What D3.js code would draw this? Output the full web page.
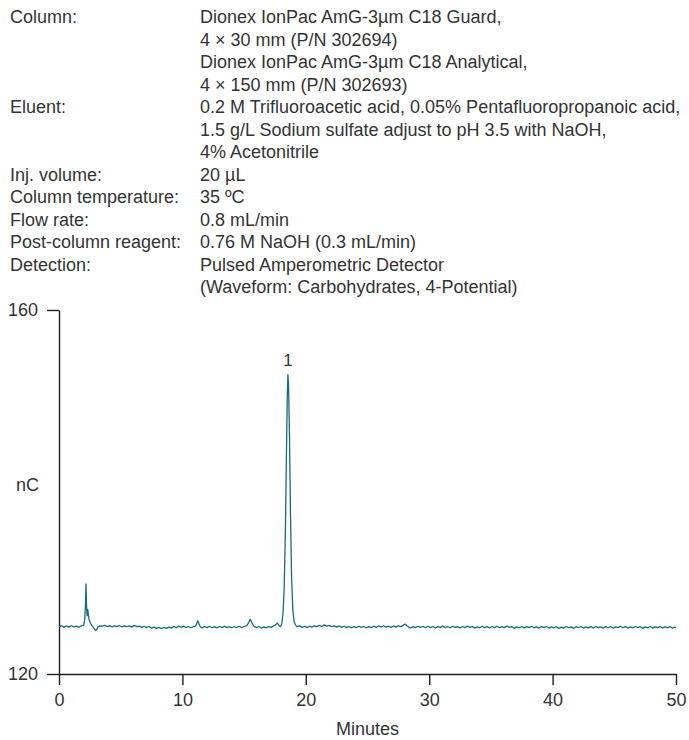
<!DOCTYPE html>
<html>
<meta charset="utf-8">
<script src="https://d3js.org/d3.v7.min.js"></script>
<style>
  body { margin: 0; background: #fff; }
  svg text { font-family: "Liberation Sans", Arial, sans-serif; }
</style>
<body>
<div id="chart"></div>
<script>

// method conditions printed above the chromatogram
var conditionLabels = ["Column:", "", "", "", "Eluent:", "", "", "Inj. volume:",
  "Column temperature:", "Flow rate:", "Post-column reagent:", "Detection:", ""];
var conditionValues = [
  "Dionex IonPac AmG-3µm C18 Guard,",
  "4 × 30 mm (P/N 302694)",
  "Dionex IonPac AmG-3µm C18 Analytical,",
  "4 × 150 mm (P/N 302693)",
  "0.2 M Trifluoroacetic acid, 0.05% Pentafluoropropanoic acid,",
  "1.5 g/L Sodium sulfate adjust to pH 3.5 with NaOH,",
  "4% Acetonitrile",
  "20 µL",
  "35 ºC",
  "0.8 mL/min",
  "0.76 M NaOH (0.3 mL/min)",
  "Pulsed Amperometric Detector",
  "(Waveform: Carbohydrates, 4-Potential)"
];

var xTicks = [0, 10, 20, 30, 40, 50];
var yTicks = [120, 160];

// labelled peaks: [minutes, nC, label]
var peakLabels = [[18.55, 152.9, "1"]];

// detector trace: [minutes, nC]
var trace = [
  [0.0,125.2],[0.2,125.3],[0.4,125.12],[0.6,125.28],[0.8,125.15],[1.0,125.3],[1.2,125.18],
  [1.4,125.27],[1.6,125.13],[1.8,125.3],[2.0,125.35],
  [2.08,125.9],[2.14,127.5],[2.19,129.9],[2.24,127.2],[2.28,126.4],[2.33,127.1],[2.38,126.5],
  [2.45,125.9],[2.55,125.6],[2.65,125.35],[2.75,125.2],[2.85,125.0],[2.95,124.8],[3.05,124.85],
  [3.15,125.15],[3.3,125.3],[3.5,125.25],[3.7,125.35],[3.9,125.2],[4.1,125.32],[4.3,125.18],
  [4.5,125.3],[4.7,125.2],[4.9,125.33],[5.1,125.17],[5.3,125.3],[5.5,125.2],[5.7,125.28],
  [5.9,125.15],[6.1,125.35],[6.3,125.2],[6.5,125.27],[6.7,125.12],[6.9,125.25],[7.1,125.1],
  [7.3,125.22],[7.5,125.05],[7.7,125.15],[7.9,125.02],[8.1,125.12],[8.3,125.0],[8.5,125.12],
  [8.7,125.02],[8.9,125.15],[9.1,125.05],[9.3,125.2],[9.5,125.1],[9.7,125.28],[9.9,125.12],
  [10.1,125.25],[10.3,125.1],[10.5,125.22],[10.7,125.08],[10.9,125.2],[11.05,125.25],
  [11.15,125.5],[11.25,125.85],[11.35,125.5],[11.45,125.2],[11.6,125.05],[11.8,125.22],
  [12.0,125.1],[12.2,125.25],[12.4,125.08],[12.6,125.2],[12.8,125.07],[13.0,125.22],
  [13.2,125.1],[13.4,125.25],[13.6,125.1],[13.8,125.2],[14.0,125.08],[14.2,125.22],
  [14.4,125.1],[14.6,125.25],[14.8,125.12],[15.0,125.22],[15.2,125.3],[15.35,125.6],
  [15.5,126.0],[15.65,125.6],[15.8,125.25],[16.0,125.1],[16.2,125.22],[16.4,125.05],
  [16.6,125.18],[16.8,125.08],[17.0,125.2],[17.2,125.12],[17.4,125.3],[17.55,125.4],
  [17.7,125.6],[17.85,125.3],[17.95,125.2],
  [18.05,125.5],[18.15,126.6],[18.25,129.5],[18.35,136.0],[18.43,144.0],[18.5,150.5],
  [18.55,152.9],[18.6,151.8],[18.68,146.0],[18.76,137.5],[18.85,130.5],[18.95,127.0],
  [19.05,125.8],[19.15,125.4],[19.3,125.2],[19.5,125.3],[19.7,125.12],[19.9,125.25],
  [20.1,125.1],[20.3,125.25],[20.5,125.15],[20.7,125.3],[20.9,125.2],[21.1,125.35],
  [21.3,125.22],[21.5,125.4],[21.7,125.25],[21.9,125.35],[22.1,125.2],[22.3,125.3],
  [22.5,125.15],[22.7,125.28],[22.9,125.12],[23.1,125.25],[23.3,125.1],[23.5,125.22],
  [23.7,125.08],[23.9,125.2],[24.1,125.1],[24.3,125.25],[24.5,125.12],[24.7,125.22],
  [24.9,125.08],[25.1,125.2],[25.3,125.1],[25.5,125.25],[25.7,125.12],[25.9,125.28],
  [26.1,125.15],[26.3,125.3],[26.5,125.15],[26.7,125.25],[26.9,125.12],[27.1,125.28],
  [27.3,125.15],[27.5,125.3],[27.7,125.2],[27.9,125.35],[28.05,125.5],[28.2,125.3],
  [28.35,125.15],[28.5,125.05],[28.7,125.2],[28.9,125.1],[29.1,125.25],[29.3,125.12],
  [29.5,125.22],[29.7,125.08],[29.9,125.25],[30.1,125.1],[30.3,125.22],[30.5,125.05],
  [30.7,125.2],[30.9,125.12],[31.1,125.28],[31.3,125.1],[31.5,125.22],[31.7,125.08],
  [31.9,125.25],[32.1,125.12],[32.3,125.2],[32.5,125.05],[32.7,125.22],[32.9,125.1],
  [33.1,125.27],[33.3,125.12],[33.5,125.2],[33.7,125.05],[33.9,125.18],[34.1,125.08],
  [34.3,125.25],[34.5,125.1],[34.7,125.2],[34.9,125.05],[35.1,125.22],[35.3,125.1],
  [35.5,125.25],[35.7,125.08],[35.9,125.2],[36.1,125.1],[36.3,125.27],[36.5,125.12],
  [36.7,125.2],[36.9,125.02],[37.1,125.18],[37.3,125.08],[37.5,125.22],[37.7,125.05],
  [37.9,125.2],[38.1,125.1],[38.3,125.25],[38.5,125.08],[38.7,125.18],[38.9,125.05],
  [39.1,125.2],[39.3,125.1],[39.5,125.22],[39.7,125.05],[39.9,125.18],[40.1,125.08],
  [40.3,125.2],[40.5,125.0],[40.7,125.15],[40.9,125.05],[41.1,125.22],[41.3,125.08],
  [41.5,125.18],[41.7,125.02],[41.9,125.2],[42.1,125.08],[42.3,125.22],[42.5,125.05],
  [42.7,125.18],[42.9,125.07],[43.1,125.2],[43.3,125.05],[43.5,125.22],[43.7,125.1],
  [43.9,125.18],[44.1,125.05],[44.3,125.2],[44.5,125.08],[44.7,125.22],[44.9,125.05],
  [45.1,125.18],[45.3,125.1],[45.5,125.25],[45.7,125.08],[45.9,125.2],[46.1,125.05],
  [46.3,125.18],[46.5,125.08],[46.7,125.22],[46.9,125.1],[47.1,125.2],[47.3,125.02],
  [47.5,125.18],[47.7,125.08],[47.9,125.22],[48.1,125.05],[48.3,125.18],[48.5,125.1],
  [48.7,125.2],[48.9,125.05],[49.1,125.18],[49.3,125.08],[49.5,125.2],[49.7,125.05],
  [49.9,125.15],[50.0,125.1]
];

var width = 689, height = 740;
var margin = {top: 310, right: 13, bottom: 66, left: 59};

var svg = d3.select("#chart")
  .append("svg")
    .attr("width", width)
    .attr("height", height);

// conditions block
var info = svg.append("g")
    .style("font-size", "18px")
    .style("fill", "#333");
conditionLabels.forEach(function(t, i) {
  info.append("text").attr("x", 10).attr("y", 23 + i * 22.5).text(t);
});
conditionValues.forEach(function(t, i) {
  info.append("text").attr("x", 200).attr("y", 23 + i * 22.5).text(t);
});

var x = d3.scaleLinear()
    .domain([0, 50])
    .range([margin.left, width - margin.right]);
var y = d3.scaleLinear()
    .domain([120, 160])
    .range([height - margin.bottom, margin.top]);

// x axis
var xAxis = svg.append("g")
    .attr("transform", "translate(0," + y(120) + ")")
    .call(d3.axisBottom(x).tickValues(xTicks).tickSize(11).tickSizeOuter(0).tickPadding(8));

// y axis
var yAxis = svg.append("g")
    .attr("transform", "translate(" + x(0) + ",0)")
    .call(d3.axisLeft(y).tickValues(yTicks).tickSize(12).tickSizeOuter(0).tickPadding(9));

[xAxis, yAxis].forEach(function(a) {
  a.attr("color", "#1e1e1e");
  a.selectAll("path, line").attr("stroke-width", 1.4);
  a.selectAll("text").style("font-size", "18px").attr("fill", "#333");
});

// axis titles
svg.append("text")
    .attr("x", (x(0) + x(50)) / 2)
    .attr("y", 735)
    .attr("text-anchor", "middle")
    .style("font-size", "18px")
    .style("fill", "#333")
    .text("Minutes");

svg.append("text")
    .attr("x", 16)
    .attr("y", 491)
    .style("font-size", "18px")
    .style("fill", "#333")
    .text("nC");

// the trace
var line = d3.line()
    .x(function(d) { return x(d[0]); })
    .y(function(d) { return y(d[1]); });

svg.append("path")
    .datum(trace)
    .attr("d", line)
    .attr("fill", "none")
    .attr("stroke", "#1a6a80")
    .attr("stroke-width", 1.3)
    .attr("stroke-linejoin", "round");

// peak numbers
svg.selectAll(".peak")
  .data(peakLabels)
  .enter().append("text")
    .attr("class", "peak")
    .attr("x", function(d) { return x(d[0]); })
    .attr("y", function(d) { return y(d[1]) - 9; })
    .attr("text-anchor", "middle")
    .style("font-size", "17px")
    .style("fill", "#333")
    .text(function(d) { return d[2]; });

</script>
</body>
</html>
